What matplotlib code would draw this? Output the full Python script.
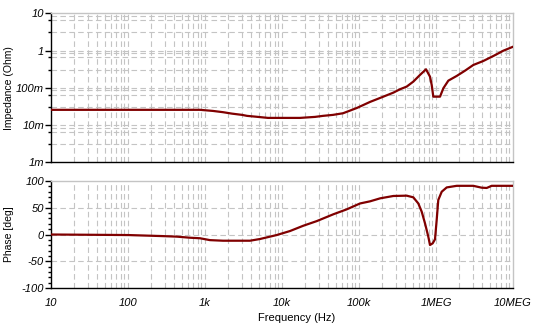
import numpy as np
import matplotlib
matplotlib.use("Agg")
import matplotlib.pyplot as plt
from matplotlib.ticker import FixedLocator, NullFormatter

# impedance curve (Hz, Ohm)
imp_freq = [10, 861, 1270, 1715, 2245, 3030, 3510, 4460, 6580, 17100, 26800, 34100,
            45900, 62000, 76400, 94000, 139e3, 207e3, 279e3, 341e3, 416e3, 507e3,
            619e3, 741e3, 835e3, 879e3, 922e3, 1.127e6, 1.245e6, 1.445e6, 1.858e6,
            2.38e6, 3.05e6, 4.11e6, 5.55e6, 7.48e6, 10e6]
imp_ohm = [0.0257, 0.0257, 0.0240, 0.0222, 0.0203, 0.0188, 0.0177, 0.0169, 0.0156, 0.0156,
           0.0166, 0.0177, 0.0188, 0.0208, 0.0245, 0.0289, 0.0419, 0.058, 0.0743, 0.0917,
           0.108, 0.147, 0.222, 0.315, 0.200, 0.120, 0.058, 0.058, 0.0975, 0.156, 0.209,
           0.289, 0.411, 0.526, 0.716, 0.993, 1.27]

# phase curve (Hz, deg)
ph_freq = [10, 100, 285, 433, 638, 861, 1160, 1715, 3840, 5180, 8530, 12700, 18900,
           28200, 46400, 69200, 103e3, 139e3, 188e3, 279e3, 416e3, 507e3, 589e3, 652e3,
           719e3, 794e3, 835e3, 905e3, 970e3, 1.02e6, 1.07e6, 1.186e6, 1.377e6, 1.858e6,
           3.05e6, 3.92e6, 4.55e6, 5.28e6, 10e6]
ph_deg = [0, -1, -3, -4, -6, -7, -10.5, -11.6, -11.6, -8.4, -1, 6.5, 16.4, 25, 37.8, 47,
          58, 62, 67.6, 72, 72.6, 69.5, 58, 42.6, 21, -4, -19.6, -16.5, -9, 27, 64.5, 80,
          88, 91, 91, 87.5, 87, 91, 91]

x_ticks = [10, 100, 1e3, 1e4, 1e5, 1e6, 1e7]
x_labels = ["10", "100", "1k", "10k", "100k", "1MEG", "10MEG"]
imp_ticks = [1e-3, 1e-2, 1e-1, 1, 10]
imp_labels = ["1m", "10m", "100m", "1", "10"]
ph_ticks = [-100, -50, 0, 50, 100]

plt.rcParams['font.family'] = ['Liberation Sans', 'DejaVu Sans']

line_col = "#800000"
grid_col = "#c4c4c4"
dash = (0, (5, 3))

fig = plt.figure(figsize=(5.46, 3.32), dpi=100)
ax1 = fig.add_axes([0.0934, 0.511, 0.8462, 0.4488])
ax2 = fig.add_axes([0.0934, 0.1325, 0.8462, 0.3223])


def style_axes(ax):
    ax.set_xscale("log")
    ax.set_xlim(10, 1e7)
    ax.spines["left"].set_color("black")
    ax.spines["bottom"].set_color("black")
    ax.spines["top"].set_color(grid_col)
    ax.spines["right"].set_color(grid_col)
    for s in ax.spines.values():
        s.set_linewidth(1)
    # vertical log grid
    vlines = [m * 10 ** k for k in range(1, 7) for m in range(1, 10)][1:]
    for v in vlines:
        ax.axvline(v, color=grid_col, lw=0.8, ls=dash, zorder=0)
    ax.xaxis.set_major_locator(FixedLocator(x_ticks))
    ax.xaxis.set_minor_locator(FixedLocator([]))
    ax.tick_params(axis="x", length=0)
    ax.tick_params(axis="y", which="major", length=4, width=1, direction="out",
                   labelsize=8, pad=1)
    ax.tick_params(axis="y", which="minor", length=2.5, width=1, direction="out")


# impedance
ax1.plot(imp_freq, imp_ohm, color=line_col, lw=1.6, zorder=3)
ax1.set_yscale("log")
ax1.set_ylim(1e-3, 10)
style_axes(ax1)
ax1.yaxis.set_major_locator(FixedLocator(imp_ticks))
ax1.set_yticklabels(imp_labels, fontstyle="italic")
ax1.yaxis.set_minor_locator(FixedLocator([m * 10.0 ** k for k in range(-3, 1) for m in (3.1, 6.6)]))
ax1.yaxis.set_minor_formatter(NullFormatter())
ax1.set_xticklabels([])
for k in range(-3, 1):
    for m in (1, 3.1, 6.6, 8.5):
        if m == 1 and k == -3:
            continue
        ax1.axhline(m * 10.0 ** k, color=grid_col, lw=0.8, ls=dash, zorder=0)

# phase
ax2.plot(ph_freq, ph_deg, color=line_col, lw=1.6, zorder=3)
ax2.set_ylim(-100, 100)
style_axes(ax2)
ax2.yaxis.set_major_locator(FixedLocator(ph_ticks))
ax2.set_yticklabels([str(t) for t in ph_ticks], fontstyle="italic")
ax2.yaxis.set_minor_locator(FixedLocator(list(range(-90, 100, 10))))
for v in (-50, 0, 50):
    ax2.axhline(v, color=grid_col, lw=0.8, ls=dash, zorder=0)
ax2.set_xticklabels(x_labels, fontstyle="italic", fontsize=8)
ax2.tick_params(axis="x", pad=7)

# axis titles as figure text
fig.text(9 / 546, 1 - 88 / 332, "Impedance (Ohm)", rotation=90, ha="center", va="center", fontsize=7.5)
fig.text(9 / 546, 1 - 234 / 332, "Phase [deg]", rotation=90, ha="center", va="center", fontsize=7.5)
fig.text(297 / 546, 0.042, "Frequency (Hz)", ha="center", va="center", fontsize=8)

fig.savefig("out.png", dpi=100)
